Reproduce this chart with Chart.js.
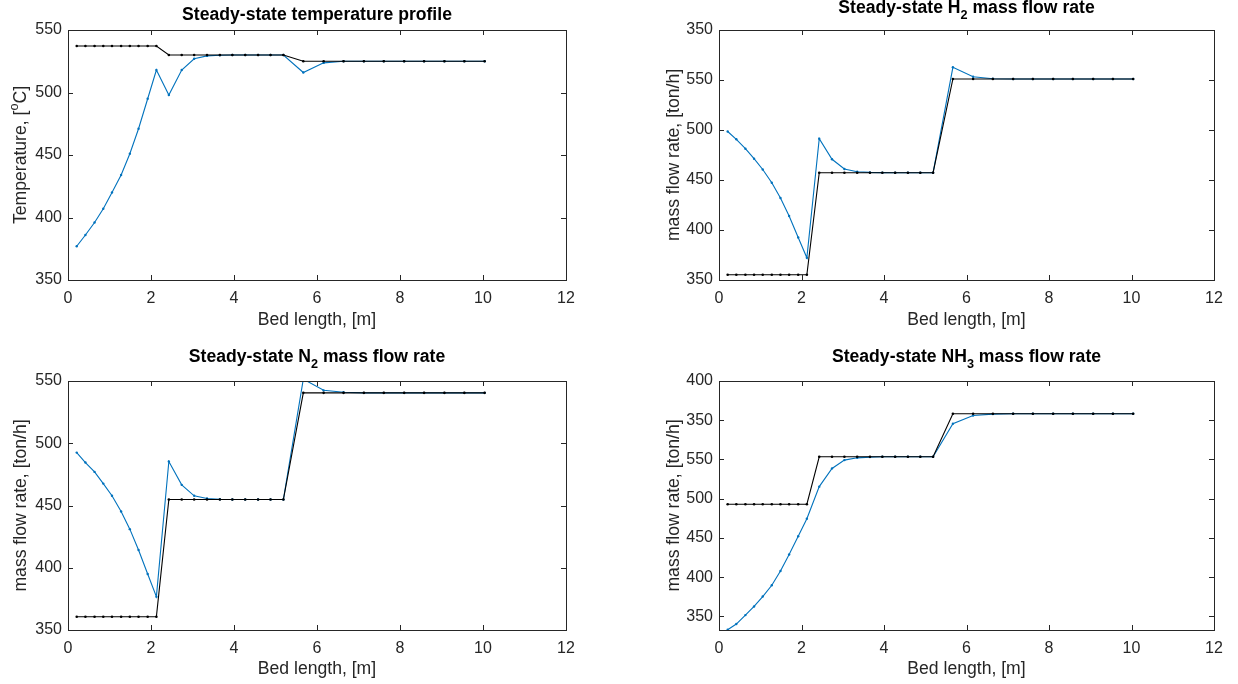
<!DOCTYPE html>
<html>
<head>
<meta charset="utf-8">
<script src="https://cdn.jsdelivr.net/npm/chart.js@4.4.1/dist/chart.umd.min.js"></script>
<style>
  body { margin: 0; background: #fff; width: 1238px; height: 684px; overflow: hidden; position: relative; }
  .cell { position: absolute; width: 619px; height: 342px; }
</style>
</head>
<body>
<div class="cell" style="left:0;top:0"><canvas id="cTemp"></canvas></div>
<div class="cell" style="left:619px;top:0"><canvas id="cH2"></canvas></div>
<div class="cell" style="left:0;top:342px"><canvas id="cN2"></canvas></div>
<div class="cell" style="left:619px;top:342px"><canvas id="cNH3"></canvas></div>
<script>
// bed length positions (3 beds, 10 nodes each)
const bedLength = [
  0.21, 0.42, 0.64, 0.85, 1.06, 1.28, 1.49, 1.70, 1.92, 2.13,
  2.43, 2.74, 3.04, 3.35, 3.66, 3.96, 4.27, 4.58, 4.88, 5.19,
  5.67, 6.16, 6.64, 7.13, 7.61, 8.10, 8.58, 9.07, 9.55, 10.04
];

// temperature [C]
const tempBlue = [
  377, 386, 396, 407, 420, 434, 451, 471, 495, 518,
  498, 518, 527, 529.3, 529.8, 530, 530, 530, 530, 530,
  516, 523.7, 525, 525, 525, 525, 525, 525, 525, 525
];
const tempBlack = [
  537.2, 537.2, 537.2, 537.2, 537.2, 537.2, 537.2, 537.2, 537.2, 537.2,
  530, 530, 530, 530, 530, 530, 530, 530, 530, 530,
  525, 525, 525, 525, 525, 525, 525, 525, 525, 525
];

// H2 mass flow
const h2Blue = [
  498.5, 490.7, 481.3, 471.3, 460.5, 447.3, 432, 414, 392.5, 372.2,
  491.3, 470.7, 461, 458.3, 457.6, 457.4, 457.3, 457.3, 457.3, 457.3,
  562.7, 553.3, 551.2, 551, 551, 551, 551, 551, 551, 551
];
const h2Black = [
  355.3, 355.3, 355.3, 355.3, 355.3, 355.3, 355.3, 355.3, 355.3, 355.3,
  457.3, 457.3, 457.3, 457.3, 457.3, 457.3, 457.3, 457.3, 457.3, 457.3,
  551, 551, 551, 551, 551, 551, 551, 551, 551, 551
];

// N2 mass flow
const n2Blue = [
  492.5, 484.5, 477, 467.6, 457.8, 445.2, 431, 414.2, 395, 376.8,
  485.3, 466.6, 457.8, 455.6, 455, 454.8, 454.8, 454.8, 454.8, 454.8,
  551.5, 542.5, 541, 540.5, 540.5, 540.5, 540.5, 540.5, 540.5, 540.5
];
const n2Black = [
  360.7, 360.7, 360.7, 360.7, 360.7, 360.7, 360.7, 360.7, 360.7, 360.7,
  454.8, 454.8, 454.8, 454.8, 454.8, 454.8, 454.8, 454.8, 454.8, 454.8,
  540.5, 540.5, 540.5, 540.5, 540.5, 540.5, 540.5, 540.5, 540.5, 540.5
];

// NH3 mass flow
const nh3Blue = [
  333, 340.3, 351.7, 362.7, 375.3, 389.7, 407.8, 428.9, 452.1, 474.5,
  515.4, 538.6, 549.2, 552.1, 553, 553.4, 553.4, 553.4, 553.4, 553.4,
  595.6, 606.1, 607.8, 608.2, 608.2, 608.2, 608.2, 608.2, 608.2, 608.2
];
const nh3Black = [
  493, 493, 493, 493, 493, 493, 493, 493, 493, 493,
  553.4, 553.4, 553.4, 553.4, 553.4, 553.4, 553.4, 553.4, 553.4, 553.4,
  608.2, 608.2, 608.2, 608.2, 608.2, 608.2, 608.2, 608.2, 608.2, 608.2
];

// y tick positions and the text printed at them
const tempTicks = [350, 400, 450, 500, 550];
const tempTickText = ['350', '400', '450', '500', '550'];
const h2Ticks = [350, 400, 450, 500, 550, 600];
const h2TickText = ['350', '400', '450', '500', '550', '350'];
const n2Ticks = [350, 400, 450, 500, 550];
const n2TickText = ['350', '400', '450', '500', '550'];
const nh3Ticks = [350, 400, 450, 500, 550, 600, 650];
const nh3TickText = ['350', '400', '450', '500', '550', '350', '400'];
const xTicks = [0, 2, 4, 6, 8, 10, 12];

const BLUE = '#0072BD';
const BLACK = '#000000';
const AXIS = '#262626';
const FONT = "'Liberation Sans', Arial, sans-serif";

// draw text made of pieces, some sub/superscripted, centred on (0,0)
function richText(ctx, parts, size, weight) {
  const fnt = (s) => weight + ' ' + s + 'px ' + FONT;
  let w = 0;
  parts.forEach(p => {
    ctx.font = fnt(p.sub || p.sup ? size * 0.72 : size);
    p.w = ctx.measureText(p.t).width;
    w += p.w;
  });
  let x = -w / 2;
  ctx.textAlign = 'left';
  ctx.textBaseline = 'middle';
  parts.forEach(p => {
    ctx.font = fnt(p.sub || p.sup ? size * 0.72 : size);
    const dy = p.sub ? size * 0.45 : p.sup ? -size * 0.38 : 0;
    ctx.fillText(p.t, x, dy);
    x += p.w;
  });
}

function framePlugin(meta) {
  return {
    id: 'frame',
    afterDatasetsDraw(chart) {
      const { ctx, chartArea: a, scales: { x, y } } = chart;
      ctx.save();
      ctx.strokeStyle = AXIS;
      ctx.lineWidth = 1;
      ctx.strokeRect(Math.round(a.left) + 0.5, Math.round(a.top) + 0.5,
                     Math.round(a.right - a.left), Math.round(a.bottom - a.top));
      ctx.beginPath();
      x.ticks.forEach(t => {
        const px = Math.round(x.getPixelForValue(t.value)) + 0.5;
        ctx.moveTo(px, a.bottom); ctx.lineTo(px, a.bottom - 5);
        ctx.moveTo(px, a.top); ctx.lineTo(px, a.top + 5);
      });
      y.ticks.forEach(t => {
        const py = Math.round(y.getPixelForValue(t.value)) + 0.5;
        ctx.moveTo(a.left, py); ctx.lineTo(a.left + 5, py);
        ctx.moveTo(a.right, py); ctx.lineTo(a.right - 5, py);
      });
      ctx.stroke();

      ctx.fillStyle = '#000';
      ctx.save();
      ctx.translate((a.left + a.right) / 2, meta.titleY);
      richText(ctx, meta.title, 17.6, 'bold');
      ctx.restore();

      ctx.fillStyle = AXIS;
      ctx.save();
      ctx.translate(meta.yTitleX, (a.top + a.bottom) / 2);
      ctx.rotate(-Math.PI / 2);
      richText(ctx, meta.yTitle, 17.6, 'normal');
      ctx.restore();
      ctx.restore();
    }
  };
}

function makeChart(id, blue, black, yMin, yMax, ticks, tickText, meta) {
  const data = {
    datasets: [{
      label: 'black',
      data: bedLength.map((v, i) => ({ x: v, y: black[i] })),
      borderColor: BLACK,
      backgroundColor: BLACK,
      borderWidth: 1.1,
      pointRadius: 1.3,
      pointBorderWidth: 0
    }, {
      label: 'blue',
      data: bedLength.map((v, i) => ({ x: v, y: blue[i] })),
      borderColor: BLUE,
      backgroundColor: BLUE,
      borderWidth: 1.1,
      pointRadius: 1.2,
      pointBorderWidth: 0
    }]
  };
  const config = {
    type: 'line',
    data,
    options: {
      responsive: true,
      maintainAspectRatio: false,
      animation: false,
      layout: { padding: { left: 0, right: meta.padR, top: meta.padT, bottom: 0 } },
      plugins: { legend: { display: false }, tooltip: { enabled: false }, title: { display: false } },
      scales: {
        x: {
          type: 'linear', min: 0, max: 12,
          afterBuildTicks: s => { s.ticks = xTicks.map(v => ({ value: v })); },
          afterFit: s => { s.height = meta.xH; },
          grid: { display: false, drawTicks: false },
          border: { display: false },
          ticks: { color: AXIS, font: { family: FONT, size: 16 }, padding: 9, maxRotation: 0 },
          title: { display: true, text: 'Bed length, [m]', color: AXIS,
                   font: { family: FONT, size: 17.6 }, padding: { top: 0, bottom: meta.xTitlePad } }
        },
        y: {
          type: 'linear', min: yMin, max: yMax,
          afterBuildTicks: s => { s.ticks = ticks.map(v => ({ value: v })); },
          afterFit: s => { s.width = meta.yW; },
          grid: { display: false, drawTicks: false },
          border: { display: false },
          ticks: {
            color: AXIS, font: { family: FONT, size: 16 }, padding: 6,
            callback: v => tickText[ticks.indexOf(v)]
          }
        }
      }
    },
    plugins: [framePlugin(meta)]
  };
  return new Chart(id, config);
}

const flowTitleY = [{ t: 'mass flow rate, [ton/h]' }];

makeChart('cTemp', tempBlue, tempBlack, 350, 550, tempTicks, tempTickText, {
  padR: 53, padT: 30, xH: 62, yW: 68, xTitlePad: 11, titleY: 15, yTitleX: 21,
  title: [{ t: 'Steady-state temperature profile' }],
  yTitle: [{ t: 'Temperature, [' }, { t: 'o', sup: true }, { t: 'C]' }]
});
makeChart('cH2', h2Blue, h2Black, 350, 600, h2Ticks, h2TickText, {
  padR: 24, padT: 30, xH: 62, yW: 100, xTitlePad: 11, titleY: 8, yTitleX: 55,
  title: [{ t: 'Steady-state H' }, { t: '2', sub: true }, { t: ' mass flow rate' }],
  yTitle: flowTitleY
});
makeChart('cN2', n2Blue, n2Black, 350, 550, n2Ticks, n2TickText, {
  padR: 53, padT: 39, xH: 54, yW: 68, xTitlePad: 4, titleY: 15, yTitleX: 21,
  title: [{ t: 'Steady-state N' }, { t: '2', sub: true }, { t: ' mass flow rate' }],
  yTitle: flowTitleY
});
makeChart('cNH3', nh3Blue, nh3Black, 332.7, 650, nh3Ticks, nh3TickText, {
  padR: 24, padT: 39, xH: 54, yW: 100, xTitlePad: 4, titleY: 15, yTitleX: 55,
  title: [{ t: 'Steady-state NH' }, { t: '3', sub: true }, { t: ' mass flow rate' }],
  yTitle: flowTitleY
});
</script>
</body>
</html>
